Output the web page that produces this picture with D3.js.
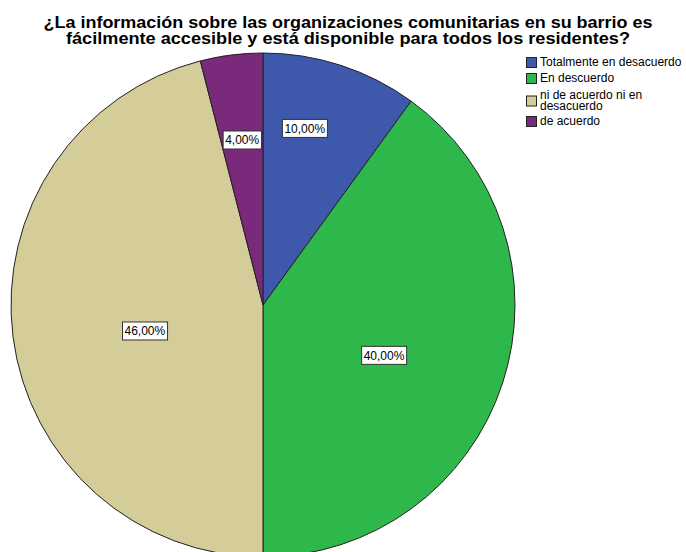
<!DOCTYPE html>
<html lang="es">
<head>
<meta charset="UTF-8">
<title>Pie</title>
<script src="https://d3js.org/d3.v7.min.js"></script>
<style>
  body { margin: 0; background: #fff; }
  text { font-family: "Liberation Sans", Arial, sans-serif; }
</style>
</head>
<body>
<div id="chart"></div>
<script>
// datos
const categories = ["Totalmente en desacuerdo", "En descuerdo", "ni de acuerdo ni en desacuerdo", "de acuerdo"];
const values = [10, 40, 46, 4];
const legendLines = [["Totalmente en desacuerdo"], ["En descuerdo"], ["ni de acuerdo ni en", "desacuerdo"], ["de acuerdo"]];
const colors = ["#3e58ac", "#2eb84b", "#d4cc99", "#7a2a7a"];
const titleLines = ["¿La información sobre las organizaciones comunitarias en su barrio es",
                    "fácilmente accesible y está disponible para todos los residentes?"];

const width = 686, height = 552;
const cx = 263, cy = 305, radius = 252;
// colocacion de etiquetas (desplazamiento angular en grados, radio relativo)
const labelShift = [-4.7, 4.6, -5.2, 0];
const labelR = [0.72, 0.52, 0.48, 0.66];
const titleWidth = [609, 564];

const svg = d3.select("#chart").append("svg")
  .attr("width", width)
  .attr("height", height);

// titulo
svg.append("g").selectAll("text")
  .data(titleLines)
  .join("text")
  .attr("x", 348)
  .attr("y", (d, i) => 28 + i * 16)
  .attr("text-anchor", "middle")
  .attr("textLength", (d, i) => titleWidth[i])
  .attr("lengthAdjust", "spacingAndGlyphs")
  .style("font-size", "16px")
  .style("font-weight", "bold")
  .attr("fill", "#000")
  .text(d => d);

const pie = d3.pie().sort(null).value(d => d)
const arcs = pie(values)
const arc = d3.arc().innerRadius(0).outerRadius(radius)

const g = svg.append("g").attr("transform", "translate(" + cx + "," + cy + ")")

g.selectAll("path")
  .data(arcs)
  .join("path")
  .attr("d", arc)
  .attr("fill", (d, i) => colors[i])
  .attr("stroke", "#222")
  .attr("stroke-width", 1)

const fmt = v => d3.format(".2f")(v).replace(".", ",") + "%"

const labels = g.selectAll("g.lbl")
  .data(arcs)
  .join("g")
  .attr("class", "lbl")
  .attr("transform", (d, i) => {
    const a = (d.startAngle + d.endAngle) / 2 + labelShift[i] * Math.PI / 180
    const r = radius * labelR[i]
    return "translate(" + (Math.sin(a) * r) + "," + (-Math.cos(a) * r) + ")"
  })

labels.append("text")
  .attr("text-anchor", "middle")
  .attr("dy", "0.35em")
  .style("font-size", "12px")
  .attr("fill", "#000")
  .text(d => fmt(d.data))

labels.each(function() {
  const t = d3.select(this).select("text")
  const bb = t.node().getBBox()
  d3.select(this).insert("rect", "text")
    .attr("x", bb.x - 2)
    .attr("y", -9)
    .attr("width", bb.width + 4)
    .attr("height", 18)
    .attr("fill", "#fff")
    .attr("stroke", "#333")
    .attr("stroke-width", 1)
})

// leyenda
const legendY = [62, 78, 95, 121]
const leg = svg.append("g").selectAll("g")
  .data(categories)
  .join("g")
  .attr("transform", (d, i) => "translate(526," + legendY[i] + ")")

leg.append("rect")
  .attr("x", 0.5)
  .attr("y", (d, i) => i == 2 ? 1 : -4.5)
  .attr("width", 10)
  .attr("height", 10)
  .attr("fill", (d, i) => colors[i])
  .attr("stroke", "#222")
  .attr("stroke-width", 1)

leg.append("text")
  .style("font-size", "12px")
  .attr("fill", "#000")
  .selectAll("tspan")
  .data((d, i) => legendLines[i])
  .join("tspan")
  .attr("x", 14)
  .attr("y", (d, i) => i * 11)
  .attr("dy", "0.35em")
  .text(d => d)
</script>
</body>
</html>
